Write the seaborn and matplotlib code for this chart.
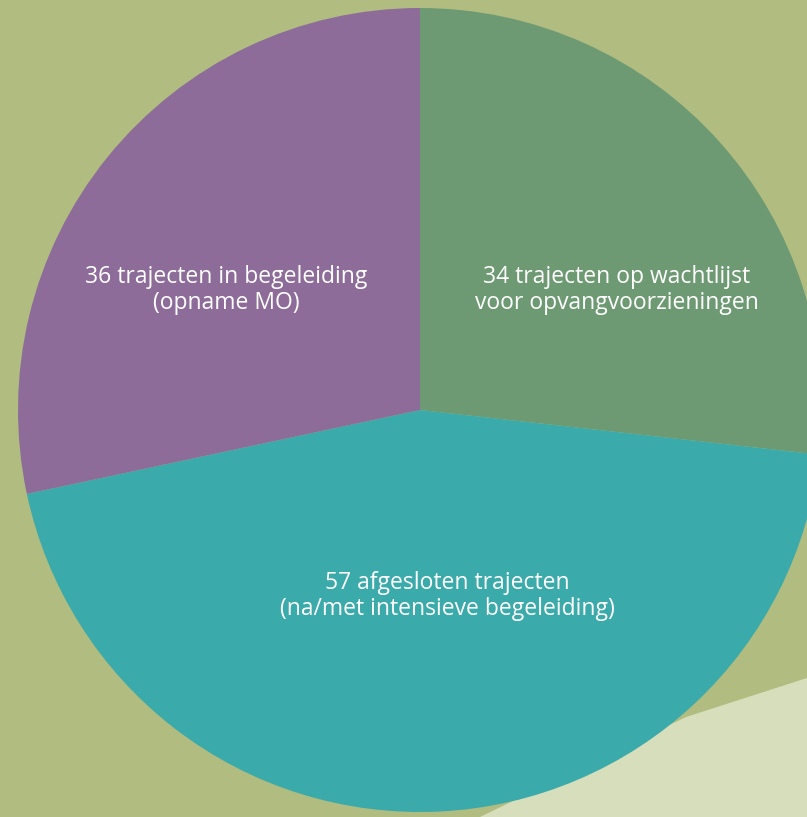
import matplotlib
matplotlib.use("Agg")
import matplotlib.pyplot as plt
import seaborn as sns

# Data
labels = ["34 trajecten op wachtlijst\nvoor opvangvoorzieningen",
          "57 afgesloten trajecten\n(na/met intensieve begeleiding)",
          "36 trajecten in begeleiding\n(opname MO)"]
values = [34, 57, 36]
colors = ["#6E9A73", "#3BAAAA", "#8E6C99"]

sns.set_style("white")
plt.rcParams['font.family'] = ['Open Sans', 'DejaVu Sans']

W, H = 807, 817
fig = plt.figure(figsize=(W / 100, H / 100), dpi=100, facecolor="#B0BC80")
ax = fig.add_axes([0, 0, 1, 1])
ax.set_facecolor("#B0BC80")

# light background shape in the bottom right corner
ax.add_patch(plt.Polygon([(686, H - 717), (807, H - 678), (807, 0), (480, 0)],
                         closed=True, facecolor="#D7DEBC", edgecolor="none", zorder=0))

cx, cy, r = 420, H - 410, 402
ax.pie(values, colors=colors, startangle=90, counterclock=False,
       center=(cx, cy), radius=r, frame=True,
       wedgeprops=dict(linewidth=0, zorder=1))
ax.set_xlim(0, W)
ax.set_ylim(0, H)
ax.set_aspect("equal")
ax.axis("off")

label_pos = [(617, H - 290), (447, H - 596), (226, H - 290)]
for lab, (x, y) in zip(labels, label_pos):
    ax.text(x, y, lab, color="white", fontsize=16.5, ha="center", va="center",
            linespacing=1.08, zorder=3)

fig.savefig("out.png", dpi=100, facecolor=fig.get_facecolor())
